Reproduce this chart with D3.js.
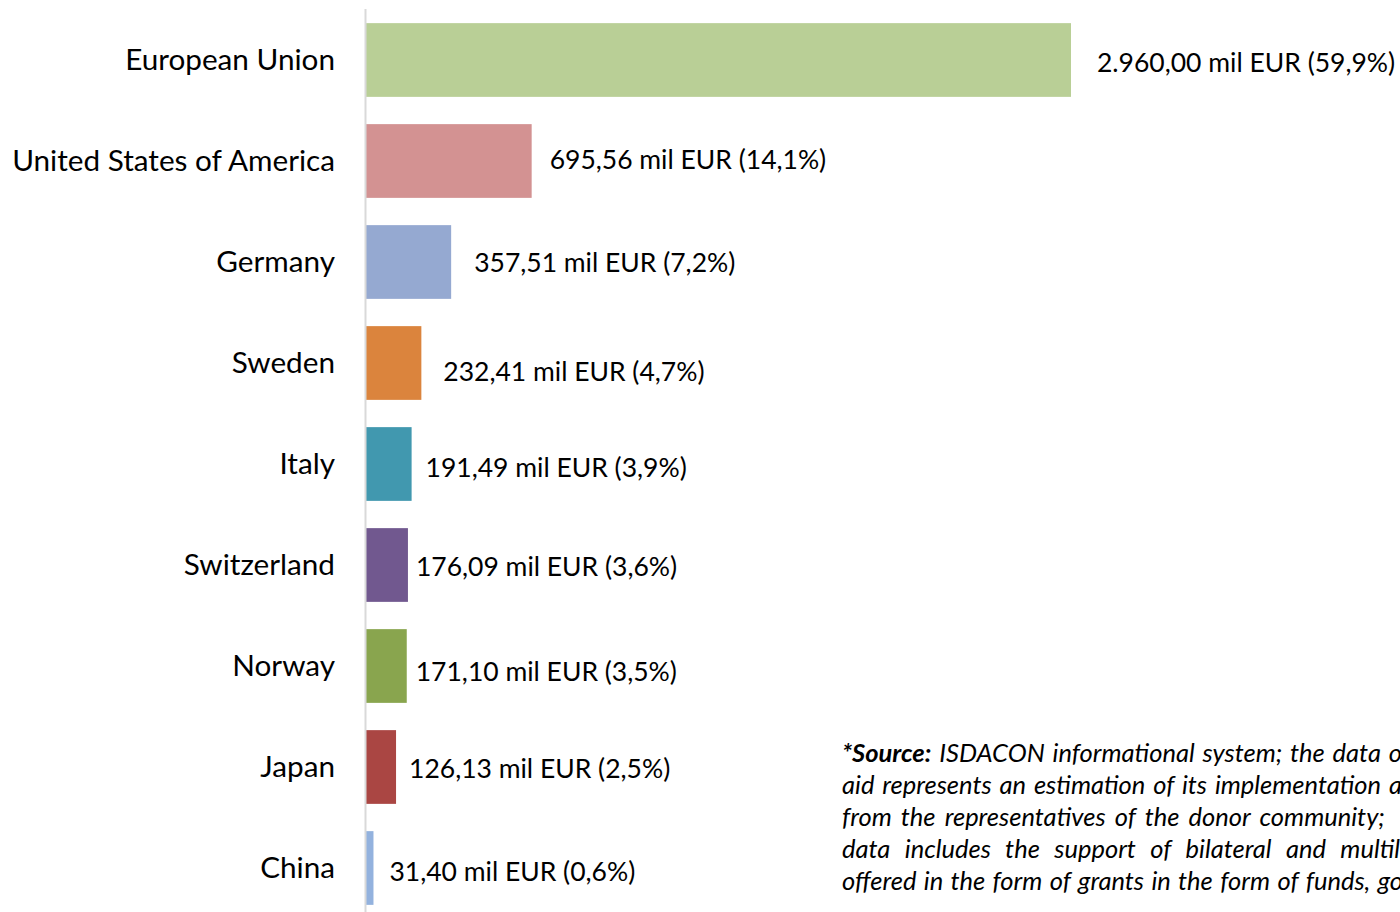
<!DOCTYPE html>
<html>
<head>
<meta charset="utf-8">
<script src="https://cdn.jsdelivr.net/npm/d3@7"></script>
<style>
  html, body { margin: 0; padding: 0; background: #fff; overflow: hidden; }
  svg { display: block; }
  .cat { font-family: Lato, "Noto Sans", sans-serif; font-size: 29.7px; fill: #000; }
  .val { font-family: Lato, "Noto Sans", sans-serif; font-size: 26.5px; fill: #000; }
  .note { font-family: Lato, "Noto Sans", sans-serif; font-size: 25.5px; font-style: italic; fill: #000; }
</style>
</head>
<body>
<svg id="chart" width="1400" height="912"></svg>
<script>
var donors = ['European Union', 'United States of America', 'Germany', 'Sweden', 'Italy',
              'Switzerland', 'Norway', 'Japan', 'China'];
var amounts = [2960.00, 695.56, 357.51, 232.41, 191.49, 176.09, 171.10, 126.13, 31.40];
var shares = [59.9, 14.1, 7.2, 4.7, 3.9, 3.6, 3.5, 2.5, 0.6];
var barColors = ['#b9cf96', '#d39292', '#95a9d1', '#db843d', '#4198af',
                 '#71588f', '#89a54e', '#aa4643', '#93b2de'];

// labels were dragged by hand in the original, so nudge each one a bit
var labelDx = [26, 18, 23, 22, 14, 8, 9, 13, 16];
var labelDy = [3, -1, 1, 9, 4, 2, 6, 2, 4];

// source note, only the part that shows inside the picture
var noteLines = [
  'ISDACON informational system; the data o',
  'aid represents an estimation of its implementation a',
  'from the representatives of the donor community;',
  'data includes the support of bilateral and multil',
  'offered in the form of grants in the form of funds, go'
];
var noteEnds = [1402, 1402, 1385, 1400, 1403];

var AXIS_X = 366;

var svg = d3.select('#chart');

var x = d3.scaleLinear()
    .domain([0, d3.max(amounts)])
    .range([AXIS_X, 1071]);

var y = d3.scaleBand()
    .domain(donors)
    .range([9.5, 918.5])
    .paddingInner(0.27)
    .paddingOuter(0.135);

var fmt = function(v) {
  // 2960 -> "2.960,00"
  var s = v.toFixed(2).split('.');
  var intPart = s[0].replace(/\B(?=(\d{3})+(?!\d))/g, '.');
  return intPart + ',' + s[1];
};

var rows = donors.map(function(d, i) {
  return { name: d, value: amounts[i], share: shares[i], color: barColors[i], i: i };
});

svg.selectAll('.bar')
    .data(rows)
    .enter().append('rect')
    .attr('class', 'bar')
    .attr('x', AXIS_X)
    .attr('y', function(d) { return y(d.name); })
    .attr('width', function(d) { return x(d.value) - AXIS_X; })
    .attr('height', y.bandwidth())
    .attr('fill', function(d) { return d.color; });

// vertical axis line
svg.append('line')
    .attr('x1', AXIS_X - 0.5).attr('x2', AXIS_X - 0.5)
    .attr('y1', 9).attr('y2', 912)
    .attr('stroke', '#d9d9d9')
    .attr('stroke-width', 2);

svg.selectAll('.cat')
    .data(rows)
    .enter().append('text')
    .attr('class', 'cat')
    .attr('x', 335)
    .attr('y', function(d) { return y(d.name) + y.bandwidth() / 2; })
    .attr('dy', '0.35em')
    .attr('text-anchor', 'end')
    .text(function(d) { return d.name; });

svg.selectAll('.val')
    .data(rows)
    .enter().append('text')
    .attr('class', 'val')
    .attr('x', function(d) { return x(d.value) + labelDx[d.i]; })
    .attr('y', function(d) { return y(d.name) + y.bandwidth() / 2 + labelDy[d.i]; })
    .attr('dy', '0.35em')
    .text(function(d) { return fmt(d.value) + ' mil EUR (' + String(d.share).replace('.', ',') + '%)'; });

var NOTE_X = 842;
var noteTop = 762;
var notePitch = 32;

// justified text box: spread the words so each line ends where it does in the original
noteLines.forEach(function(line, i) {
  var t = svg.append('text')
      .attr('class', 'note')
      .attr('x', NOTE_X)
      .attr('y', noteTop + i * notePitch);

  if (i === 0) {
    t.append('tspan').style('font-weight', 'bold').text('*Source:');
    t.append('tspan').text(' ' + line);
  } else {
    t.text(line);
  }
  var natural = t.node().getComputedTextLength();
  var gaps = ((i === 0 ? ' ' : '') + line).match(/ /g).length;
  t.attr('word-spacing', (noteEnds[i] - NOTE_X - natural) / gaps);
});
</script>
</body>
</html>
